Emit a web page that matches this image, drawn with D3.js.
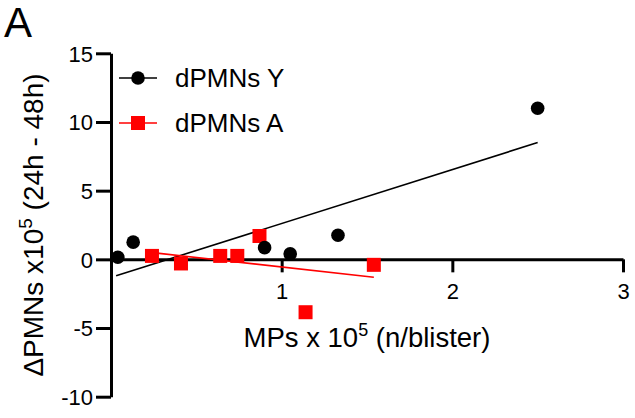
<!DOCTYPE html>
<html lang="en">
<head>
  <meta charset="UTF-8">
  <title>dPMNs vs MPs</title>
  <script src="https://d3js.org/d3.v7.min.js"></script>
  <style>
    body { margin: 0; background: #fff; }
    text { font-family: Arial, 'Liberation Sans', sans-serif; fill: #000; }
    .axis path, .axis line { stroke: #000; stroke-width: 3; }
    .axis text { font-size: 22px; }
  </style>
</head>
<body>
  <svg id="chart" width="635" height="418"></svg>
  <script>
    // dPMNs Y (black circles)
    const yMPs = [0.04, 0.13, 0.90, 1.05, 1.33, 2.50];
    const yPMNs = [0.15, 1.25, 0.85, 0.40, 1.75, 11.0];
    // dPMNs A (red squares)
    const aMPs = [0.24, 0.41, 0.64, 0.74, 0.87, 1.14, 1.54];
    const aPMNs = [0.25, -0.30, 0.25, 0.25, 1.70, -3.85, -0.40];
    // linear fit end points
    const fitYX = [0.03, 2.50], fitYY = [-1.2, 8.5];
    const fitAX = [0.27, 1.54], fitAY = [0.45, -1.3];

    const xTicks = [1, 2, 3];
    const yTicks = [-10, -5, 0, 5, 10, 15];
    const series = ["dPMNs Y", "dPMNs A"];

    const svg = d3.select("#chart");
    const x = d3.scaleLinear().domain([0, 3]).range([111, 623]);
    const y = d3.scaleLinear().domain([-10, 15]).range([396.7, 53.3]);
    const fmt = d => String(d);

    // axes
    svg.append("g")
      .attr("class", "axis")
      .attr("transform", `translate(${x(0)},0)`)
      .call(d3.axisLeft(y).tickValues(yTicks).tickFormat(fmt).tickSize(15).tickSizeOuter(0).tickPadding(3))
      .call(g => g.selectAll("text").attr("dy", "0.36em"));

    svg.append("g")
      .attr("class", "axis")
      .attr("transform", `translate(0,${y(0)})`)
      .call(d3.axisBottom(x).tickValues(xTicks).tickFormat(fmt).tickSize(13).tickSizeOuter(0).tickPadding(11));

    svg.selectAll(".axis").attr("font-family", null).attr("font-size", null);

    // fit lines
    const line = d3.line().x(d => x(d[0])).y(d => y(d[1]));
    svg.append("path")
      .datum(d3.zip(fitYX, fitYY))
      .attr("fill", "none").attr("stroke", "#000").attr("stroke-width", 1.6)
      .attr("d", line);
    svg.append("path")
      .datum(d3.zip(fitAX, fitAY))
      .attr("fill", "none").attr("stroke", "#ff0000").attr("stroke-width", 1.6)
      .attr("d", line);

    // points
    svg.selectAll(".sq")
      .data(d3.zip(aMPs, aPMNs))
      .enter().append("rect")
      .attr("x", d => x(d[0]) - 7)
      .attr("y", d => y(d[1]) - 7)
      .attr("width", 14).attr("height", 14)
      .attr("fill", "#ff0000");

    svg.selectAll(".dot")
      .data(d3.zip(yMPs, yPMNs))
      .enter().append("circle")
      .attr("cx", d => x(d[0]))
      .attr("cy", d => y(d[1]))
      .attr("r", 6.8)
      .attr("fill", "#000");

    // legend
    const leg = svg.append("g");
    series.forEach((s, i) => {
      const ly = 78 + i * 45;
      const col = i === 0 ? "#000" : "#ff0000";
      leg.append("line")
        .attr("x1", 119).attr("x2", 157).attr("y1", ly).attr("y2", ly)
        .attr("stroke", col).attr("stroke-width", 1.6);
      if (i === 0) {
        leg.append("circle").attr("cx", 138).attr("cy", ly).attr("r", 6.8).attr("fill", col);
      } else {
        leg.append("rect").attr("x", 131).attr("y", ly - 7).attr("width", 14).attr("height", 14).attr("fill", col);
      }
      leg.append("text")
        .attr("x", 175).attr("y", ly).attr("dy", "0.36em")
        .style("font-size", "26px")
        .text(s);
    });

    // axis titles
    const xt = svg.append("text")
      .attr("x", 367).attr("y", 347)
      .attr("text-anchor", "middle")
      .style("font-size", "27.5px");
    xt.append("tspan").text("MPs x 10");
    xt.append("tspan").attr("dy", -11).style("font-size", "18px").text("5");
    xt.append("tspan").attr("dy", 11).text(" (n/blister)");

    const yt = svg.append("text")
      .attr("transform", "translate(43,225) rotate(-90)")
      .attr("text-anchor", "middle")
      .style("font-size", "28px");
    yt.append("tspan").text("\u0394PMNs x10");
    yt.append("tspan").attr("dy", -11).style("font-size", "19px").text("5");
    yt.append("tspan").attr("dy", 11).text(" (24h - 48h)");

    // panel letter
    svg.append("text")
      .attr("x", 4).attr("y", 37)
      .style("font-size", "42px")
      .text("A");
  </script>
</body>
</html>
